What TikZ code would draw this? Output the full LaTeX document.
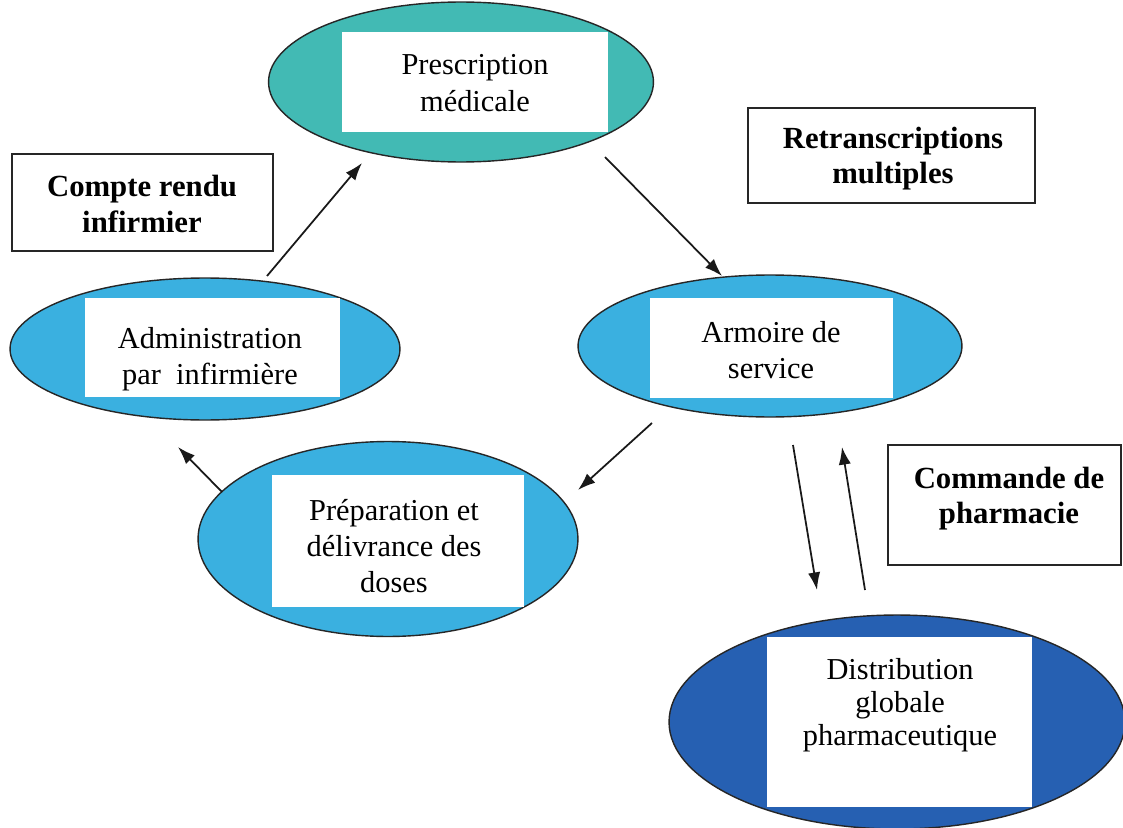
\documentclass[tikz,border=0pt]{standalone}
\usepackage{fontspec}
\setmainfont{Liberation Serif}
\usetikzlibrary{shapes.geometric,arrows.meta}
\definecolor{tealc}{RGB}{66,186,180}
\definecolor{lblue}{RGB}{58,176,224}
\definecolor{dblue}{RGB}{38,96,178}
\tikzset{
  ell/.style={ellipse, draw=black!85, line width=0.8pt, inner sep=0pt},
  wrect/.style={rectangle, fill=white, draw=none, inner sep=0pt},
  txt/.style={align=center, inner sep=0pt, font=\fontsize{17.3}{20.7}\selectfont},
  lbox/.style={rectangle, draw=black!85, line width=0.9pt, fill=white, inner sep=0pt},
  btxt/.style={align=center, inner sep=0pt, font=\fontsize{17.5}{20}\selectfont\bfseries},
  arr/.style={-{Latex[length=10pt,width=7pt]}, line width=1pt, black!90}
}
\begin{document}
\begin{tikzpicture}[x=0.02cm,y=-0.02cm]
\useasboundingbox[fill=white] (0,0) rectangle (1123,828);

% ellipses
\node[ell, fill=tealc, minimum width=7.7cm, minimum height=3.2cm] (presc) at (461,82) {};
\node[ell, fill=lblue, minimum width=7.8cm, minimum height=2.84cm] (adm) at (205,349) {};
\node[ell, fill=lblue, minimum width=7.68cm, minimum height=2.84cm] (arm) at (770,346) {};
\node[ell, fill=lblue, minimum width=7.6cm, minimum height=3.9cm] (prep) at (388,539) {};
\node[ell, fill=dblue, minimum width=9.12cm, minimum height=4.28cm] (dist) at (897,722) {};

% white rectangles
\node[wrect, minimum width=5.32cm, minimum height=2.0cm] (prescR) at (475,82) {};
\node[wrect, minimum width=5.1cm, minimum height=1.98cm] (admR) at (212.5,347.5) {};
\node[wrect, minimum width=4.86cm, minimum height=2.0cm] (armR) at (771.5,348) {};
\node[wrect, minimum width=5.04cm, minimum height=2.64cm] (prepR) at (398,541) {};
\node[wrect, minimum width=5.3cm, minimum height=3.4cm] (distR) at (899.5,722) {};

% texts
\node[txt] (prescT) at (475,83) {Prescription\\médicale};
\node[txt] (admT) at (210,359) {Administration\\par\ \ infirmière};
\node[txt] (armT) at (771,350) {Armoire de\\service};
\node[txt] (prepT) at (394,546) {Préparation et\\délivrance des\\doses};
\node[txt, font=\fontsize{17.3}{18.7}\selectfont] (distT) at (900,705) {Distribution\\globale\\pharmaceutique};

% label boxes
\node[lbox, minimum width=5.22cm, minimum height=1.94cm] (cr) at (142.5,202.5) {};
\node[btxt] (crT) at (142,204) {Compte rendu\\infirmier};
\node[lbox, minimum width=5.74cm, minimum height=1.9cm] (rt) at (891.5,155.5) {};
\node[btxt] (rtT) at (893,159) {Retranscriptions\\multiples};
\node[lbox, minimum width=4.66cm, minimum height=2.4cm] (cmd) at (1004.5,505) {};
\node[btxt] (cmdT) at (1009,499) {Commande de\\pharmacie};

% arrow end coordinates
\coordinate (a1s) at (267,276);  \coordinate (a1e) at (362,163);
\coordinate (a2s) at (605,157);  \coordinate (a2e) at (722,276);
\coordinate (a3s) at (652,423);  \coordinate (a3e) at (578,490);
\coordinate (a4s) at (222,492);  \coordinate (a4e) at (178,447);
\coordinate (a5s) at (793,445);  \coordinate (a5e) at (817,590);
\coordinate (a6s) at (865,590);  \coordinate (a6e) at (842,447);

\draw[arr] (a1s) -- (a1e);
\draw[arr] (a2s) -- (a2e);
\draw[arr] (a3s) -- (a3e);
\draw[arr] (a4s) -- (a4e);
\draw[arr] (a5s) -- (a5e);
\draw[arr] (a6s) -- (a6e);
\end{tikzpicture}
\end{document}
